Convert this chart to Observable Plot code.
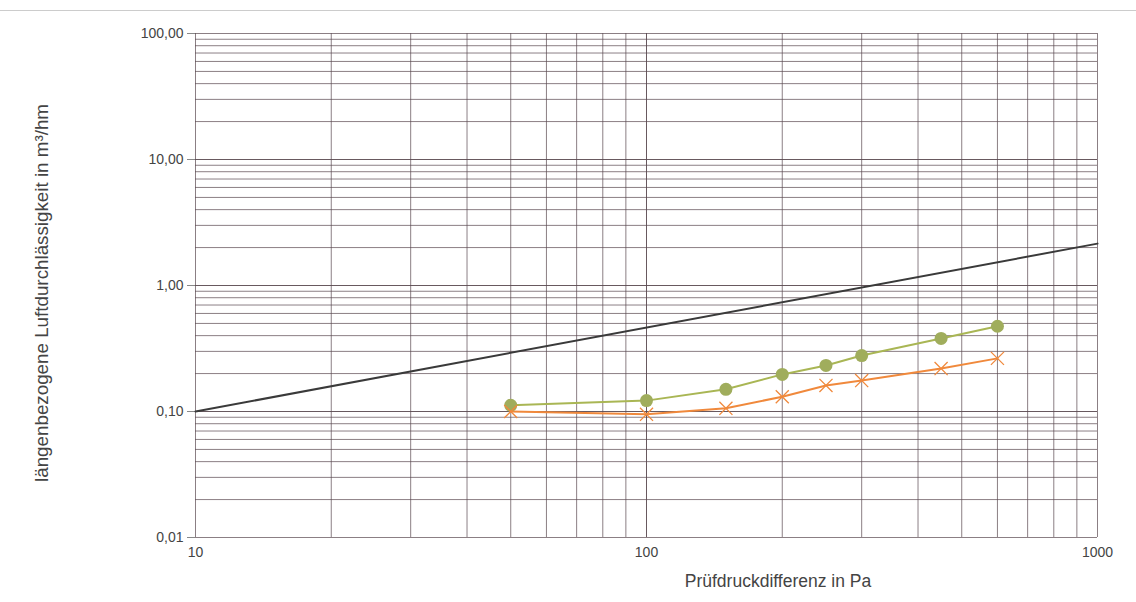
<!DOCTYPE html>
<html>
<head>
<meta charset="utf-8">
<script src="https://cdn.jsdelivr.net/npm/d3@7"></script>
<script src="https://cdn.jsdelivr.net/npm/@observablehq/plot@0.6"></script>
<style>
  html, body { margin: 0; padding: 0; background: #fff; }
  #chart { width: 1136px; height: 602px; position: relative; }
</style>
</head>
<body>
<div id="chart"></div>
<script>
// Data
const pressure = [50, 100, 150, 200, 250, 300, 450, 600];
const seriesGreen = [0.112, 0.122, 0.150, 0.197, 0.232, 0.278, 0.380, 0.475];
const seriesOrange = [0.100, 0.095, 0.106, 0.131, 0.161, 0.176, 0.219, 0.264];
const limitX = [10, 1000];
const limitY = [0.1, 2.15];
const yTicks = [0.01, 0.1, 1, 10, 100];
const xTicks = [10, 100, 1000];

// grid values (1..9 per decade)
const xGrid = [];
for (const d of [10, 100]) for (let k = 1; k <= 10; k++) xGrid.push(d * k);
const yGrid = [];
for (const d of [0.01, 0.1, 1, 10]) for (let k = 1; k <= 10; k++) yGrid.push(+(d * k).toPrecision(3));

const green = pressure.map((p, i) => ({x: p, y: seriesGreen[i]}));
const orange = pressure.map((p, i) => ({x: p, y: seriesOrange[i]}));
const limit = limitX.map((x, i) => ({x, y: limitY[i]}));

const fmtY = v => d3.format(".2f")(v).replace(".", ",");

const chart = Plot.plot({
  width: 1136,
  height: 602,
  marginLeft: 195,
  marginRight: 39,
  marginTop: 33,
  marginBottom: 65,
  style: {fontFamily: "'Liberation Sans', Arial, sans-serif", fontSize: "14px", color: "#444"},
  x: {type: "log", domain: [10, 1000], ticks: xTicks, tickFormat: d => String(d), tickSize: 0, tickPadding: 10,
      label: null},
  y: {type: "log", domain: [0.01, 100], ticks: yTicks, tickFormat: fmtY, tickSize: 8, tickPadding: 4,
      label: null},
  marks: [
    Plot.ruleX(xGrid, {stroke: "#5a4850", strokeOpacity: 0.7, strokeWidth: 1}),
    Plot.ruleY(yGrid, {stroke: "#5a4850", strokeOpacity: 0.7, strokeWidth: 1}),
    Plot.line(limit, {x: "x", y: "y", stroke: "#3a3a3a", strokeWidth: 2}),
    Plot.line(green, {x: "x", y: "y", stroke: "#a9b654", strokeWidth: 2}),
    Plot.dot(green, {x: "x", y: "y", r: 6.5, fill: "#a0ad5c", stroke: "none"}),
    Plot.line(orange, {x: "x", y: "y", stroke: "#f0893c", strokeWidth: 2}),
    Plot.dot(orange, {x: "x", y: "y", r: 6, symbol: "times", stroke: "#f0893c", strokeWidth: 1.3})
  ]
});

const svg = d3.select(chart);
svg.selectAll("[aria-label='y-axis tick'] path").attr("stroke", "#888");
svg.selectAll("[aria-label='y-axis tick label'] text, [aria-label='x-axis tick label'] text")
  .attr("font-size", 14).style("font-size", "14px").style("fill", "#444");

// x-axis label
svg.append("text")
  .attr("x", 778).attr("y", 587)
  .attr("text-anchor", "middle")
  .attr("font-size", 17.5).style("font-size", "17.5px")
  .style("fill", "#444")
  .text("Prüfdruckdifferenz in Pa");

// y-axis label (rotated)
svg.append("text")
  .attr("transform", "translate(48,293) rotate(-90)")
  .attr("text-anchor", "middle")
  .attr("font-size", 18.8).style("font-size", "18.8px")
  .style("fill", "#444")
  .text("längenbezogene Luftdurchlässigkeit in m³/hm");

// faint top border
svg.append("line").attr("x1", 0).attr("x2", 1136).attr("y1", 10.5).attr("y2", 10.5)
  .attr("stroke", "#ccc").attr("stroke-width", 1);

document.getElementById("chart").appendChild(chart);
</script>
</body>
</html>
